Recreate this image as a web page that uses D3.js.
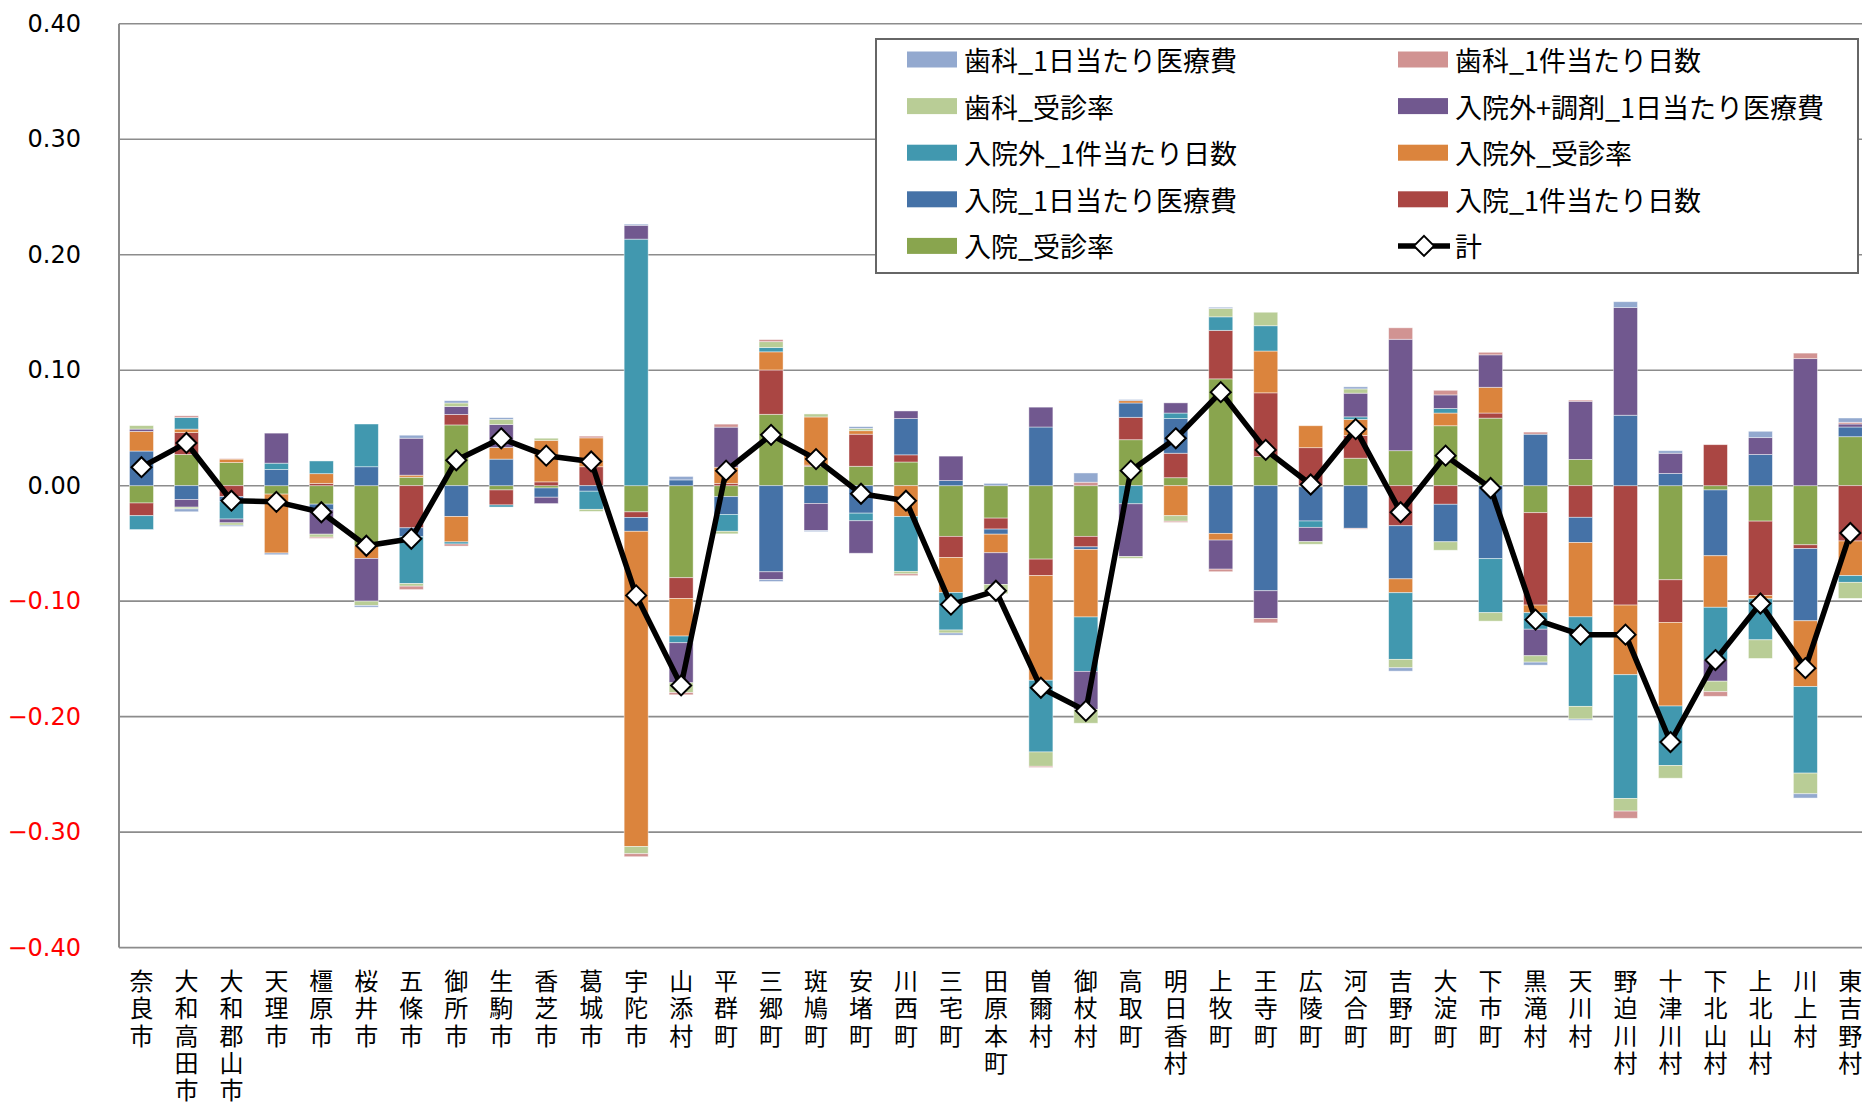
<!DOCTYPE html>
<html>
<head>
<meta charset="utf-8">
<script src="https://cdn.jsdelivr.net/npm/d3@7"></script>
<style>
  body { margin: 0; background: #fff; overflow: hidden; }
  svg { display: block; }
</style>
</head>
<body>
<svg id="chart"></svg>
<script>
// categories (municipalities)
const cities = ["奈良市","大和高田市","大和郡山市","天理市","橿原市","桜井市","五條市","御所市","生駒市","香芝市",
  "葛城市","宇陀市","山添村","平群町","三郷町","斑鳩町","安堵町","川西町","三宅町","田原本町",
  "曽爾村","御杖村","高取町","明日香村","上牧町","王寺町","広陵町","河合町","吉野町","大淀町",
  "下市町","黒滝村","天川村","野迫川村","十津川村","下北山村","上北山村","川上村","東吉野村"];

// series values
const nyuinJushin = [-0.015,0.027,0.020,-0.0073,-0.016,-0.052,0.0073,0.0526,-0.0037,-0.002,
  0,-0.0227,-0.0797,-0.0095,0.0618,0.0168,0.0168,0.0205,-0.0439,-0.0281,
  -0.0636,-0.0439,0.0398,0.0069,0.0925,0.0252,-0.001,0.0238,0.0303,0.0519,
  0.0585,-0.0234,0.0227,0,-0.0815,-0.0037,-0.0307,-0.0512,0.0424];
const nyuinNissu = [-0.011,0.019,-0.0095,0,0.002,0,-0.0365,0.0091,-0.013,0.0033,
  0.0164,-0.0048,-0.018,0.002,0.0384,0.001,0.0278,0.0062,-0.0183,-0.0095,
  -0.0143,-0.0091,0.0194,0.0212,0.042,0.0552,0.0329,0.0197,-0.0347,-0.0161,
  0.0044,-0.080,-0.0274,-0.1034,-0.0369,0.0355,-0.0643,-0.0033,-0.0479];
const nyuinIryohi = [0.030,-0.012,-0.0044,0.014,-0.005,0.0164,-0.0077,-0.0267,0.023,-0.008,
  -0.0048,-0.012,0.005,-0.0154,-0.0746,-0.0154,-0.0238,0.0314,0.0044,-0.0044,
  0.0508,-0.0022,0.0124,0.030,-0.0413,-0.091,-0.0296,-0.0369,-0.046,-0.0325,
  -0.0632,0.0446,-0.0219,0.061,0.0106,-0.057,0.027,-0.0625,0.0084];
const gairaiJushin = [0.017,0.003,0.003,-0.051,0.0084,-0.011,0.0018,-0.022,0.010,0.036,
  0.025,-0.273,-0.0325,0.014,0.0157,0.0417,0.003,-0.0267,-0.0303,-0.0161,
  -0.0906,-0.0585,0.002,-0.026,-0.0058,0.0362,0.019,0.0139,-0.012,0.011,
  0.0223,-0.0066,-0.0643,-0.0603,-0.0724,-0.0446,-0.003,-0.057,-0.030];
const gairaiNissu = [-0.012,0.010,-0.015,0.0055,0.011,0.037,-0.0406,-0.0018,-0.0018,0,
  -0.0157,0.2135,-0.0058,-0.0146,0.0037,0,-0.0066,-0.0475,-0.0325,0,
  -0.0621,-0.0471,-0.0157,0.0048,0.0117,0.0219,-0.0055,0.0022,-0.0577,0.004,
  -0.0468,-0.0143,-0.0775,-0.1071,-0.0515,-0.0457,-0.0355,-0.0749,-0.0058];
const gairaiIryohi = [0.002,-0.0066,-0.0033,0.026,-0.021,-0.037,0.032,0.0069,0.020,-0.0055,
  0,0.012,-0.0347,0.0347,-0.0066,-0.0234,-0.0281,0.0066,0.0212,-0.0274,
  0.0172,-0.0329,-0.0457,0.0088,-0.0252,-0.0241,-0.0124,0.0205,0.0965,0.0117,
  0.0281,-0.023,0.0504,0.0932,0.0175,-0.0183,0.0146,0.110,0.0026];
const shikaJushin = [0.003,-0.0015,-0.002,0,-0.0026,-0.0037,-0.0022,0.003,0.0044,0.0018,
  -0.0018,-0.0062,-0.0084,-0.0022,0.0051,0.0026,0.002,-0.0022,-0.0026,-0.008,
  -0.0124,-0.012,-0.0015,-0.0048,0.0073,0.0117,-0.0022,0.0037,-0.0073,-0.0073,
  -0.0073,-0.0055,-0.011,-0.011,-0.011,-0.0091,-0.0161,-0.0179,-0.0139];
const shikaNissu = [0,0.0015,0.0005,0,-0.001,0,-0.003,-0.0018,0,0,
  0.0015,-0.0026,-0.002,0.0026,0.0018,0,0,-0.0015,0,0,
  -0.001,0.003,0,-0.001,-0.0022,-0.0037,0,-0.0007,0.0099,0.004,
  0.0022,0.0018,0.001,-0.0062,0,-0.004,0,0.0048,0.0015];
const shikaIryohi = [0,-0.0025,-0.001,-0.0015,0,-0.0015,0.0026,0.002,0.0015,0,
  0,0.001,0.003,0,-0.0018,-0.001,0.0015,0,-0.0018,0.002,
  0,0.008,0.001,0,0.001,0,0,0.0018,-0.0029,0,
  0,-0.0026,-0.001,0.0051,0.0022,0,0.0055,-0.0037,0.0037];
const total = [0.016,0.037,-0.013,-0.014,-0.023,-0.052,-0.046,0.022,0.041,0.026,
  0.021,-0.095,-0.173,0.013,0.044,0.023,-0.007,-0.013,-0.103,-0.091,
  -0.175,-0.195,0.013,0.041,0.081,0.031,0.001,0.049,-0.023,0.026,
  -0.002,-0.116,-0.129,-0.129,-0.222,-0.151,-0.102,-0.158,-0.041];

const yTicks = [0.4,0.3,0.2,0.1,0,-0.1,-0.2,-0.3,-0.4];

// series in stacking order (from zero outward)
const series = [
  {key: "入院_受診率", values: nyuinJushin, color: "#89A54E"},
  {key: "入院_1件当たり日数", values: nyuinNissu, color: "#AA4643"},
  {key: "入院_1日当たり医療費", values: nyuinIryohi, color: "#4572A7"},
  {key: "入院外_受診率", values: gairaiJushin, color: "#DB843D"},
  {key: "入院外_1件当たり日数", values: gairaiNissu, color: "#4198AF"},
  {key: "入院外+調剤_1日当たり医療費", values: gairaiIryohi, color: "#71588F"},
  {key: "歯科_受診率", values: shikaJushin, color: "#B9CD96"},
  {key: "歯科_1件当たり日数", values: shikaNissu, color: "#D19392"},
  {key: "歯科_1日当たり医療費", values: shikaIryohi, color: "#93A9CF"}
];
const colorOf = {};
series.forEach(s => colorOf[s.key] = s.color);

const rows = cities.map((c, i) => {
  const r = {city: c};
  series.forEach(s => r[s.key] = s.values[i]);
  return r;
});

// layout
const W = 1862, H = 1104;
const plotLeft = 119, plotTop = 23.75, plotBottom = 947.6;
const step = 44.97;
const plotRight = plotLeft + step * cities.length;

const svg = d3.select("#chart").attr("width", W).attr("height", H);

const x = d3.scaleBand()
    .domain(cities)
    .range([plotLeft, plotRight])
    .paddingInner(0.466)
    .paddingOuter(0.233);

const y = d3.scaleLinear()
    .domain([-0.4, 0.4])
    .range([plotBottom, plotTop]);

// gridlines
svg.append("g")
    .selectAll("line")
    .data(yTicks)
    .enter()
    .append("line")
    .attr("x1", plotLeft)
    .attr("x2", W)
    .attr("y1", d => y(d))
    .attr("y2", d => y(d))
    .attr("stroke", "#8c8c8c")
    .attr("stroke-width", 1.6);

// y axis line
svg.append("line")
    .attr("x1", plotLeft).attr("x2", plotLeft)
    .attr("y1", plotTop).attr("y2", plotBottom)
    .attr("stroke", "#8c8c8c")
    .attr("stroke-width", 2);

// y tick labels
const yAxis = svg.append("g")
    .attr("transform", "translate(" + plotLeft + ",0)")
    .call(d3.axisLeft(y).tickValues(yTicks).tickSize(0).tickPadding(38).tickFormat(d3.format(".2f")));
yAxis.select(".domain").remove();
yAxis.selectAll("text")
    .style("font-family", "'DejaVu Sans', Verdana, sans-serif")
    .style("font-size", "24px")
    .attr("fill", d => d < 0 ? "#ff0000" : "#000");

// stacked bars
const stacked = d3.stack()
    .keys(series.map(s => s.key))
    .offset(d3.stackOffsetDiverging)(rows);

svg.append("g")
    .selectAll("g")
    .data(stacked)
    .enter()
    .append("g")
    .attr("fill", d => colorOf[d.key])
    .selectAll("rect")
    .data(d => d)
    .enter()
    .append("rect")
    .attr("x", d => x(d.data.city))
    .attr("width", x.bandwidth())
    .attr("y", d => y(Math.max(d[0], d[1])))
    .attr("height", d => Math.abs(y(d[0]) - y(d[1])))
    .attr("stroke", "rgba(255,255,255,0.55)")
    .attr("stroke-width", 0.8);

// total line
const cx = c => x(c) + x.bandwidth() / 2;
const line = d3.line()
    .x((d, i) => cx(cities[i]))
    .y(d => y(d));
svg.append("path")
    .datum(total)
    .attr("d", line)
    .attr("fill", "none")
    .attr("stroke", "#000")
    .attr("stroke-width", 5.5)
    .attr("stroke-linejoin", "round");

const diamond = "M0,-10L10,0L0,10L-10,0Z";
svg.append("g")
    .selectAll("path")
    .data(total)
    .enter()
    .append("path")
    .attr("d", diamond)
    .attr("transform", (d, i) => "translate(" + cx(cities[i]) + "," + y(d) + ")")
    .attr("fill", "#fff")
    .attr("stroke", "#000")
    .attr("stroke-width", 2);

// x labels, written vertically (one text per label)
svg.append("g")
    .selectAll("text")
    .data(cities)
    .enter()
    .append("text")
    .attr("x", d => cx(d))
    .attr("y", 969)
    .style("writing-mode", "vertical-rl")
    .style("text-orientation", "upright")
    .style("letter-spacing", "3.3px")
    .style("font-family", "'Noto Sans CJK JP', sans-serif")
    .style("font-size", "24px")
    .attr("fill", "#000")
    .text(d => d);

// legend
const legendItems = [
  {label: "歯科_1日当たり医療費", col: 0, row: 0},
  {label: "歯科_受診率", col: 0, row: 1},
  {label: "入院外_1件当たり日数", col: 0, row: 2},
  {label: "入院_1日当たり医療費", col: 0, row: 3},
  {label: "入院_受診率", col: 0, row: 4},
  {label: "歯科_1件当たり日数", col: 1, row: 0},
  {label: "入院外+調剤_1日当たり医療費", col: 1, row: 1},
  {label: "入院外_受診率", col: 1, row: 2},
  {label: "入院_1件当たり日数", col: 1, row: 3},
  {label: "計", col: 1, row: 4}
];
const lg = svg.append("g");
lg.append("rect")
    .attr("x", 876).attr("y", 39)
    .attr("width", 982).attr("height", 234)
    .attr("fill", "#fff")
    .attr("stroke", "#666")
    .attr("stroke-width", 2);
const colX = [907, 1398];
const rowY = r => 59.5 + r * 46.6;
legendItems.forEach(it => {
  const sx = colX[it.col], sy = rowY(it.row);
  if (it.label === "計") {
    lg.append("line")
      .attr("x1", sx).attr("x2", sx + 52)
      .attr("y1", sy).attr("y2", sy)
      .attr("stroke", "#000").attr("stroke-width", 5.5);
    lg.append("path")
      .attr("d", diamond)
      .attr("transform", "translate(" + (sx + 26) + "," + sy + ")")
      .attr("fill", "#fff").attr("stroke", "#000").attr("stroke-width", 2);
  } else {
    lg.append("rect")
      .attr("x", sx).attr("y", sy - 8)
      .attr("width", 50).attr("height", 16)
      .attr("fill", colorOf[it.label]);
  }
  lg.append("text")
    .attr("x", sx + 57)
    .attr("y", sy)
    .attr("dominant-baseline", "central")
    .style("font-family", "'Noto Sans CJK JP', sans-serif")
    .style("font-size", "27px")
    .attr("fill", "#000")
    .text(it.label);
});
</script>
</body>
</html>
